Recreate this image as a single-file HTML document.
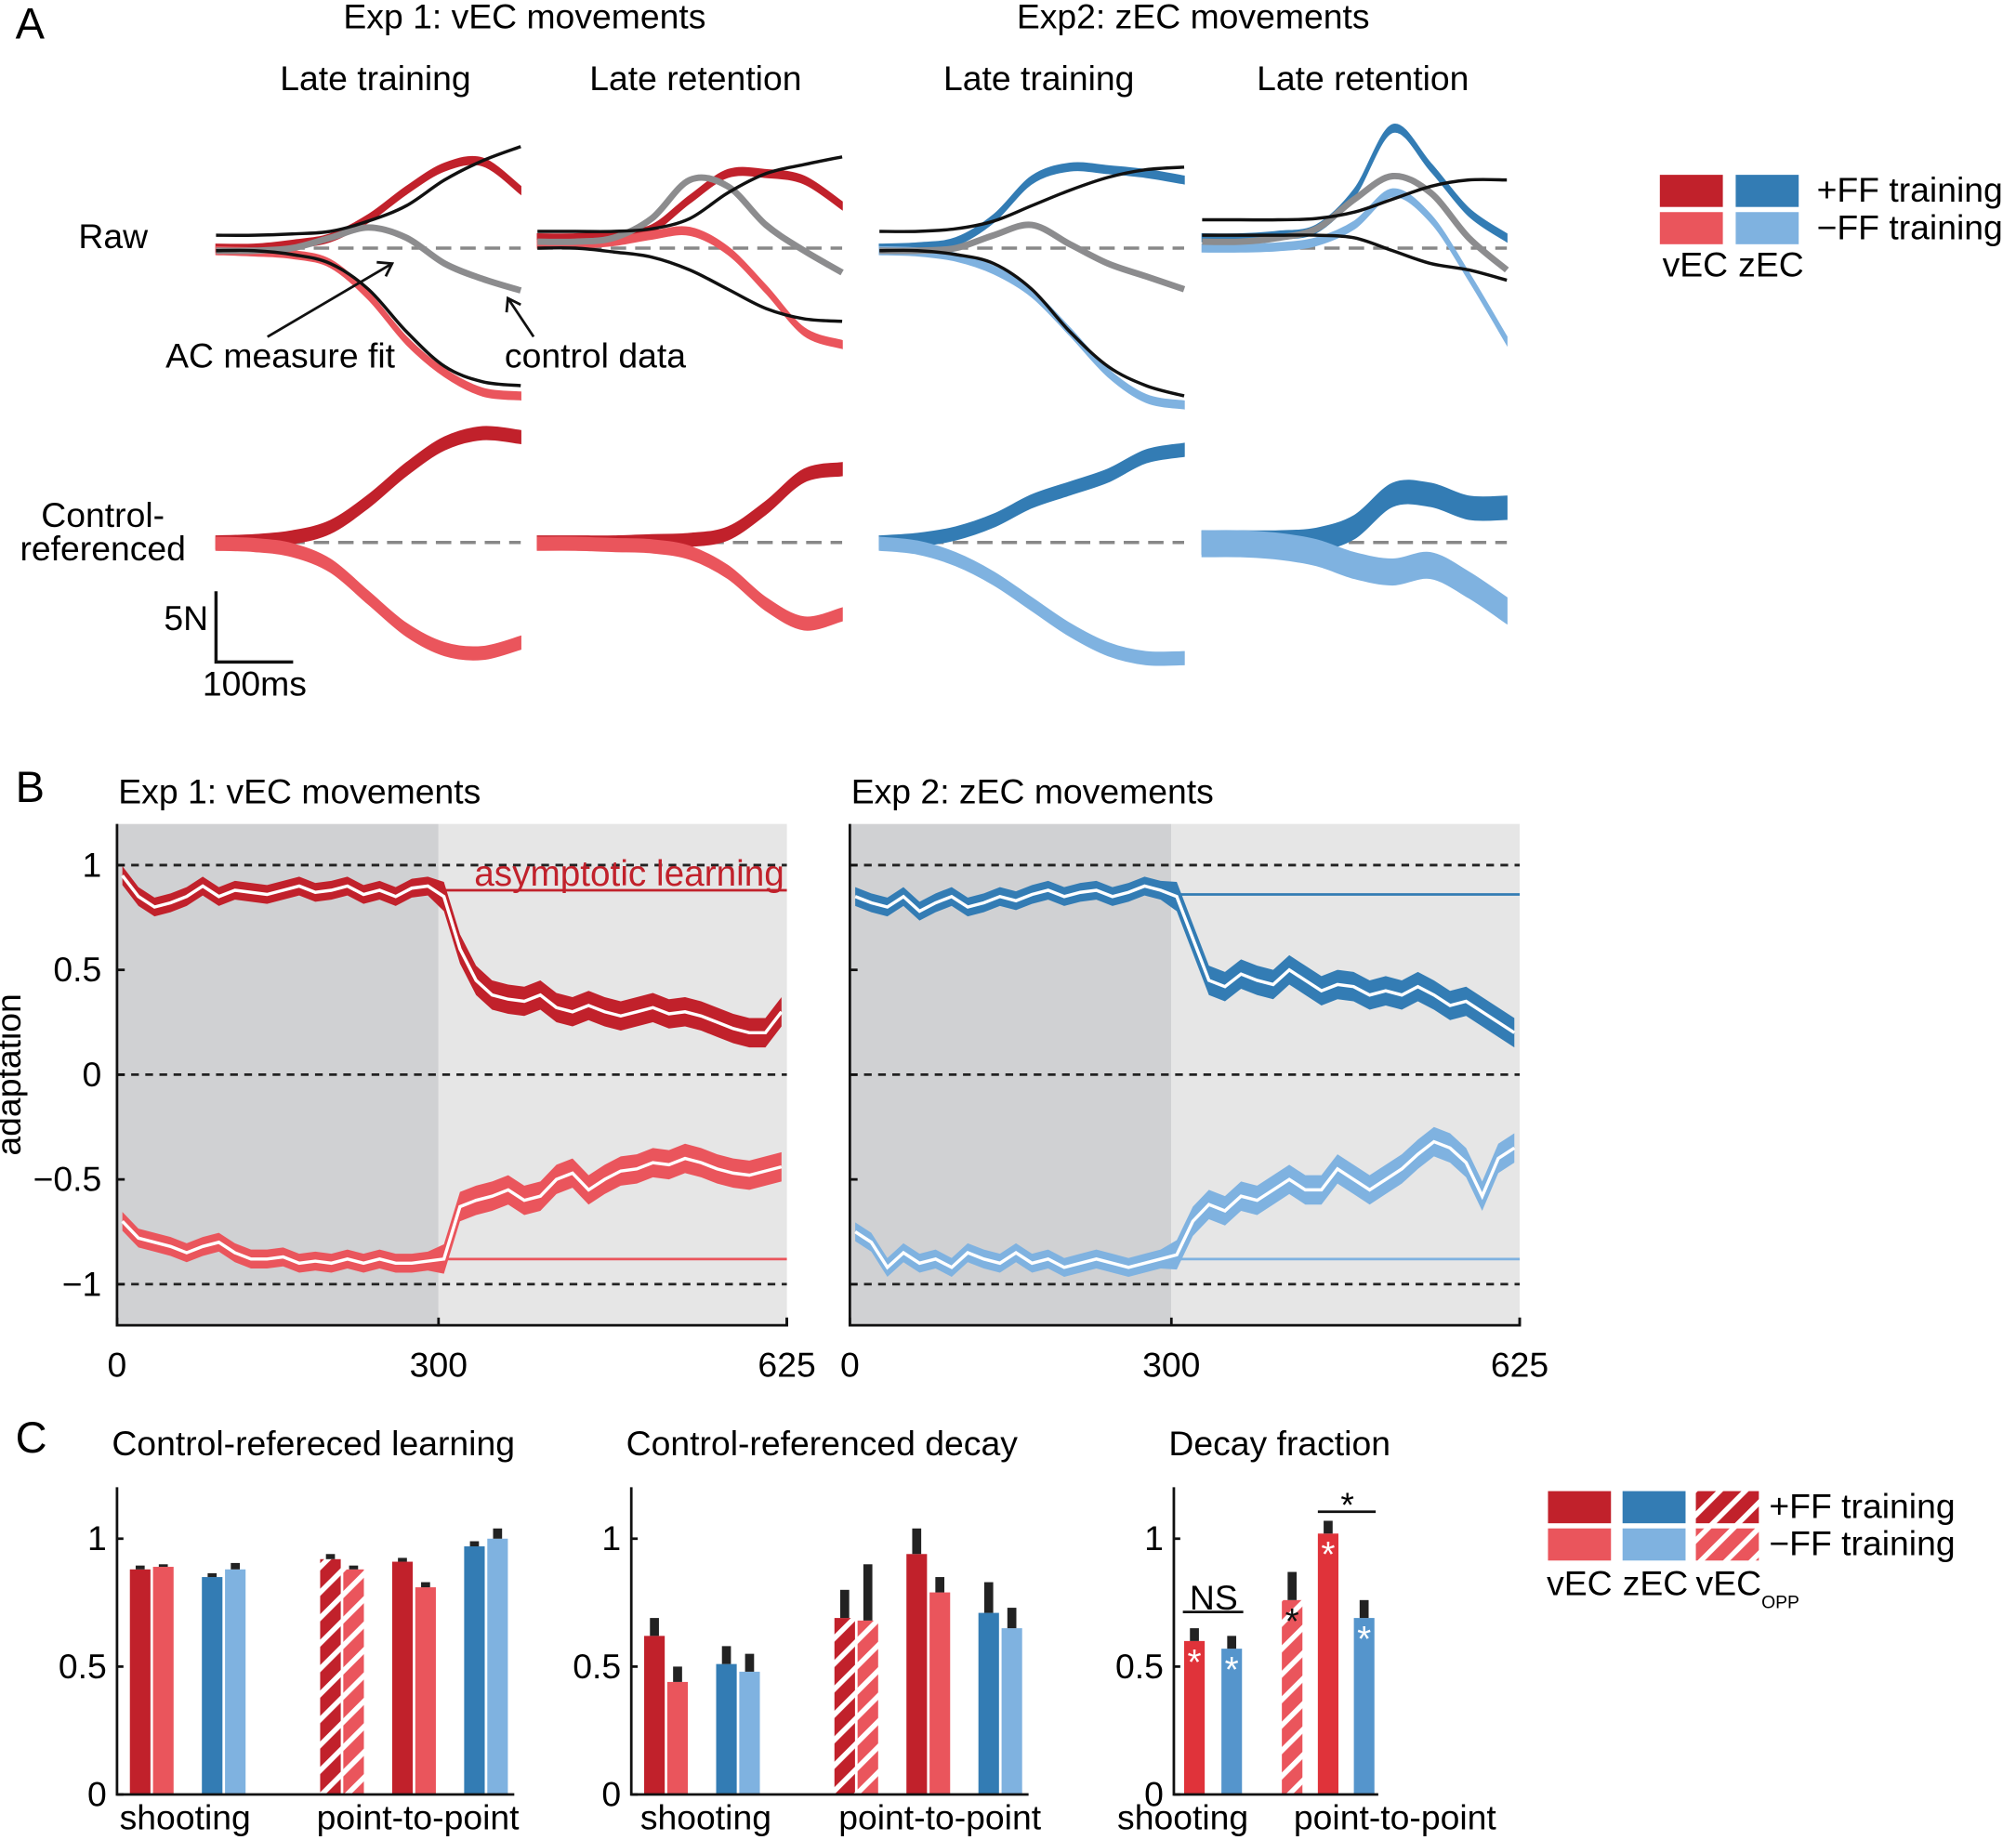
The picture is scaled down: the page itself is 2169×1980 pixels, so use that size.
<!DOCTYPE html>
<html><head><meta charset="utf-8">
<style>
html,body{margin:0;padding:0;background:#fff;}
svg{display:block;font-family:"Liberation Sans",sans-serif;}
</style></head>
<body>
<svg id="fig" width="2169" height="1980" viewBox="0 0 1568 1431.4" xmlns="http://www.w3.org/2000/svg">
<defs>
<pattern id="hatchD" patternUnits="userSpaceOnUse" width="14" height="14" patternTransform="rotate(45)">
<rect width="14" height="14" fill="#c1212b"/><rect width="4" height="14" fill="#fff"/></pattern>
<pattern id="hatchL" patternUnits="userSpaceOnUse" width="14" height="14" patternTransform="rotate(45)">
<rect width="14" height="14" fill="#ea555c"/><rect width="4" height="14" fill="#fff"/></pattern>
</defs>
<g id="A"></g>
<g id="B"></g>
<g id="C"></g>
</svg>
<script>
// ---------- Panel B data ----------
const bTrials = [5,20,35,50,65,80,95,110,125,140,155,170,185,200,215,230,245,260,275,290,305,320,335,350,365,380,395,410,425,440,455,470,485,500,515,530,545,560,575,590,605,620];
const vecPlus = [0.95,0.85,0.8,0.82,0.85,0.9,0.85,0.88,0.87,0.86,0.88,0.9,0.87,0.88,0.9,0.86,0.88,0.85,0.89,0.9,0.85,0.6,0.45,0.38,0.36,0.35,0.38,0.32,0.3,0.33,0.3,0.28,0.3,0.32,0.29,0.3,0.28,0.25,0.22,0.2,0.2,0.3];
const vecMinus = [-0.7,-0.78,-0.8,-0.82,-0.85,-0.82,-0.8,-0.85,-0.88,-0.88,-0.87,-0.9,-0.89,-0.9,-0.88,-0.9,-0.88,-0.9,-0.9,-0.89,-0.88,-0.63,-0.6,-0.58,-0.55,-0.6,-0.58,-0.5,-0.47,-0.55,-0.5,-0.46,-0.45,-0.42,-0.43,-0.4,-0.42,-0.45,-0.47,-0.48,-0.46,-0.44];
const zecPlus = [0.85,0.82,0.8,0.85,0.78,0.82,0.85,0.8,0.82,0.85,0.83,0.86,0.88,0.85,0.87,0.88,0.85,0.87,0.9,0.88,0.85,0.65,0.45,0.42,0.48,0.45,0.43,0.5,0.45,0.4,0.43,0.42,0.38,0.4,0.38,0.42,0.38,0.33,0.35,0.3,0.25,0.2];
const zecMinus = [-0.75,-0.8,-0.92,-0.85,-0.9,-0.88,-0.92,-0.85,-0.88,-0.9,-0.85,-0.9,-0.88,-0.92,-0.9,-0.88,-0.9,-0.92,-0.9,-0.88,-0.86,-0.7,-0.62,-0.65,-0.58,-0.6,-0.55,-0.5,-0.55,-0.55,-0.45,-0.5,-0.55,-0.5,-0.45,-0.38,-0.32,-0.35,-0.42,-0.58,-0.4,-0.35];
const asymptotes = [0.88,-0.88,0.86,-0.88];
const bYTicks = [1,0.5,0,-0.5,-1];
const bYTickLabels = ["1","0.5","0","\u22120.5","\u22121"];
const bXTicks = [0,300,625];

// ---------- Panel C data ----------
const cLearn = [0.88,0.89,0.85,0.88,0.92,0.88,0.91,0.81,0.97,1.0];
const cLearnErr = [0.015,0.01,0.015,0.025,0.02,0.015,0.015,0.02,0.02,0.04];
const cDecay = [0.62,0.44,0.51,0.48,0.69,0.68,0.94,0.79,0.71,0.65];
const cDecayErr = [0.07,0.06,0.07,0.07,0.11,0.22,0.1,0.06,0.12,0.08];
const cFrac = [0.60,0.57,0.76,1.02,0.69];
const cFracErr = [0.05,0.05,0.11,0.05,0.07];
const cYTicks = [0,0.5,1];

// ---------- Panel A traces ----------
const aRaw = [
 {dr:[193,193,190,185,170,148,130,126,148], lr:[195,196,198,205,230,265,290,305,308], g:[195,195,193,185,177,185,205,217,226], bu:[183,183,182,180,172,160,140,125,114], bl:[195,195,198,205,225,258,285,297,300], blue:false},
 {dr:[185,185,183,178,155,135,135,140,160], lr:[190,190,188,183,180,195,225,258,268], g:[188,188,185,170,140,145,175,195,212], bu:[180,180,180,178,170,150,135,128,122], bl:[193,193,196,200,210,225,240,248,250], blue:false},
 {dr:[193,192,188,170,140,130,132,135,140], lr:[195,196,200,210,228,258,290,310,315], g:[195,195,193,183,175,190,205,215,225], bu:[180,180,178,172,160,148,138,132,130], bl:[195,195,198,205,225,258,285,300,308], blue:true},
 {dr:[185,185,183,178,150,100,130,165,185], lr:[193,193,192,188,175,150,170,215,265], g:[188,188,185,178,155,137,150,185,210], bu:[171,171,171,170,165,155,145,140,140], bl:[183,183,183,183,185,195,205,210,218], blue:true}
];
const aRef = [
 {p:[422,421,418,410,390,365,345,337,340], m:[423,424,428,440,465,490,505,508,500]},
 {p:[422,422,422,421,420,415,395,370,365], m:[423,423,424,425,430,445,470,485,478]},
 {p:[422,420,415,405,390,380,370,355,350], m:[423,426,435,450,470,490,505,512,512]},
 {p:[422,422,422,420,410,385,385,395,395], m:[423,423,425,430,440,445,440,455,475]}
];

const NS="http://www.w3.org/2000/svg";
function mk(parent,tag,attrs,text){const e=document.createElementNS(NS,tag);for(const k in attrs)e.setAttribute(k,attrs[k]);if(text!==undefined)e.textContent=text;parent.appendChild(e);return e;}
const DR="#c1212b",LR="#ea555c",DB="#337cb4",LB="#7fb2e0";
const FS=27;

function smooth(pts){let d="M"+pts[0][0]+","+pts[0][1];for(let i=0;i<pts.length-1;i++){const p0=pts[Math.max(0,i-1)],p1=pts[i],p2=pts[i+1],p3=pts[Math.min(pts.length-1,i+2)];const c1=[p1[0]+(p2[0]-p0[0])/6,p1[1]+(p2[1]-p0[1])/6],c2=[p2[0]-(p3[0]-p1[0])/6,p2[1]-(p3[1]-p1[1])/6];d+=" C"+c1[0]+","+c1[1]+" "+c2[0]+","+c2[1]+" "+p2[0]+","+p2[1];}return d;}

// ---------- Panel A ----------
const A=document.getElementById('A');
let t;
t=mk(A,'text',{x:12,y:30,'font-size':34},'A');

const aTitles=[[408,22,'Exp 1: vEC movements'],[928,22,'Exp2: zEC movements'],[292,70,'Late training'],[541,70,'Late retention'],[808,70,'Late training'],[1060,70,'Late retention']];
aTitles.forEach(a=>{const e=mk(A,'text',{x:a[0],y:a[1],'font-size':FS,'text-anchor':'middle'},a[2]);});
t=mk(A,'text',{x:88,y:193,'font-size':FS,'text-anchor':'middle'},'Raw');
t=mk(A,'text',{x:80,y:410,'font-size':FS,'text-anchor':'middle'},'Control-');
t=mk(A,'text',{x:80,y:436,'font-size':FS,'text-anchor':'middle'},'referenced');
const aX=[168,418,684,935], aW=237;
function xsOf(i,n){const a=[];for(let k=0;k<n;k++)a.push(aX[i]+aW*k/(n-1));return a;}
function band(g,xs,ys,w,col,name){const top=xs.map((x,k)=>[x,ys[k]-w/2]),bot=xs.map((x,k)=>[x,ys[k]+w/2]).reverse();const d=smooth(top)+" L"+bot[0][0]+","+bot[0][1]+" "+smooth(bot).slice(1).replace(/^[^C]*/,'')+" Z";const e=mk(g,'path',{d:d,fill:col,stroke:col,'stroke-width':1});}
function line(g,xs,ys,col,w,name){const e=mk(g,'path',{d:smooth(xs.map((x,k)=>[x,ys[k]])),fill:'none',stroke:col,'stroke-width':w});}
for(let i=0;i<4;i++){
  const xs=xsOf(i,9),r=aRaw[i],f=aRef[i];
  let d=mk(A,'line',{x1:aX[i],x2:aX[i]+aW,y1:193,y2:193,stroke:'#888','stroke-width':2.5,'stroke-dasharray':'12,7'});
  
  d=mk(A,'line',{x1:aX[i],x2:aX[i]+aW,y1:422,y2:422,stroke:'#888','stroke-width':2.5,'stroke-dasharray':'12,7'});
  
  band(A,xs,r.dr,6,r.blue?DB:DR,'raw-plus-ff-trace');
  band(A,xs,r.lr,6,r.blue?LB:LR,'raw-minus-ff-trace');
  line(A,xs,r.g,'#8c8c8e',5,'control-data-trace');
  line(A,xs,r.bu,'#111',2.5,'ac-fit-upper');
  line(A,xs,r.bl,'#111',2.5,'ac-fit-lower');
  band(A,xs,f.p,i==3?18:10,r.blue?DB:DR,'ref-plus-ff-trace');
  band(A,xs,f.m,i==3?20:10,r.blue?LB:LR,'ref-minus-ff-trace');
}
t=mk(A,'text',{x:218,y:286,'font-size':FS,'text-anchor':'middle'},'AC measure fit');
t=mk(A,'text',{x:463,y:286,'font-size':FS,'text-anchor':'middle'},'control data');
t=mk(A,'path',{d:'M208,262 L305,205 M293,204 L305,205 L300,215 M415,262 L395,232 M394,243 L395,232 L405,237',stroke:'#111','stroke-width':2,fill:'none'});
t=mk(A,'path',{d:'M168,460 L168,515 L228,515',stroke:'#111','stroke-width':2.5,fill:'none'});
t=mk(A,'text',{x:162,y:490,'font-size':FS,'text-anchor':'end'},'5N');
t=mk(A,'text',{x:198,y:541,'font-size':FS,'text-anchor':'middle'},'100ms');
[[1291,136,DR],[1350,136,DB],[1291,165,LR],[1350,165,LB]].forEach(s=>{const e=mk(A,'rect',{x:s[0],y:s[1],width:49,height:25,fill:s[2]});});
[[1413,157,'+FF training'],[1413,186,'\u2212FF training'],[1293,215,'vEC'],[1352,215,'zEC']].forEach(s=>{const e=mk(A,'text',{x:s[0],y:s[1],'font-size':FS},s[2]);});

// ---------- Panel B ----------
const B=document.getElementById('B');
t=mk(B,'text',{x:12,y:624,'font-size':34},'B');
t=mk(B,'text',{x:16,y:836,'font-size':FS,'text-anchor':'middle',transform:'rotate(-90 16 836)'},'adaptation');
const yB=v=>836-163*v;
function drawB(x0,title,sP,sM,cP,cM,asP,asM,showY){
  const xB=v=>x0+521*v/625;
  const g=mk(B,'g',{});
  let e=mk(g,'text',{x:x0+1,y:625,'font-size':FS},title);
  e=mk(g,'rect',{x:xB(0),y:641,width:xB(300)-xB(0),height:390,fill:'#d0d1d3'});
  e=mk(g,'rect',{x:xB(300),y:641,width:xB(625)-xB(300),height:390,fill:'#e6e6e6'});
  [1,0,-1].forEach(v=>{const l=mk(g,'line',{x1:xB(0),x2:xB(625),y1:yB(v),y2:yB(v),stroke:'#222','stroke-width':2,'stroke-dasharray':'6,5'});});
  [[sP,cP,asP],[sM,cM,asM]].forEach(([s,c,a])=>{
    const hw=bTrials.map(x=>x<300?0.045:0.07);
    const top=bTrials.map((x,k)=>xB(x)+','+yB(s[k]+hw[k])).join(' ');
    const bot=bTrials.map((x,k)=>xB(x)+','+yB(s[k]-hw[k])).reverse().join(' ');
    let p=mk(g,'polygon',{points:top+' '+bot,fill:c});
    p=mk(g,'line',{x1:xB(300),x2:xB(625),y1:yB(a),y2:yB(a),stroke:c,'stroke-width':2});
    p=mk(g,'polyline',{points:bTrials.map((x,k)=>xB(x)+','+yB(s[k])).join(' '),fill:'none',stroke:'#fff','stroke-width':2.5});
  });
  e=mk(g,'path',{d:`M${xB(0)},641 L${xB(0)},1031 L${xB(625)},1031 L${xB(625)},1025`,fill:'none',stroke:'#111','stroke-width':2});
  bYTicks.forEach((v,k)=>{let l=mk(g,'line',{x1:xB(0),x2:xB(0)+6,y1:yB(v),y2:yB(v),stroke:'#111','stroke-width':2});
    if(showY){l=mk(g,'text',{x:xB(0)-12,y:yB(v)+9,'font-size':FS,'text-anchor':'end'},bYTickLabels[k]);}});
  bXTicks.forEach(v=>{let l=mk(g,'line',{x1:xB(v),x2:xB(v),y1:1031,y2:1025,stroke:'#111','stroke-width':2});
    l=mk(g,'text',{x:xB(v),y:1071,'font-size':FS,'text-anchor':'middle'},String(v));});
  return xB;
}
drawB(91,'Exp 1: vEC movements',vecPlus,vecMinus,DR,LR,asymptotes[0],asymptotes[1],true);
drawB(661,'Exp 2: zEC movements',zecPlus,zecMinus,DB,LB,asymptotes[2],asymptotes[3],false);
t=mk(B,'text',{x:610,y:689,'font-size':FS+1,fill:DR,'text-anchor':'end'},'asymptotic learning');

// ---------- Panel C ----------
const C=document.getElementById('C');
t=mk(C,'text',{x:12,y:1130,'font-size':34},'C');
const yC=v=>1396-199*v;
const cols10=[DR,LR,DB,LB,'url(#hatchD)','url(#hatchL)',DR,LR,DB,LB];
const off10=[10,28,66,84,158,176,214,232,270,288];
function drawC(x0,title,vals,errs,cols,offs,w){
  const g=mk(C,'g',{});
  let e=mk(g,'text',{x:x0-4,y:1132,'font-size':FS},title);
  vals.forEach((v,k)=>{
    let r=mk(g,'rect',{x:x0+offs[k],y:yC(v),width:w,height:yC(0)-yC(v),fill:cols[k]});
    r=mk(g,'rect',{x:x0+offs[k]+w/2-3.5,y:yC(v+errs[k]),width:7,height:yC(v)-yC(v+errs[k]),fill:'#222'});
  });
  return g;
}
function axesC(g,x0,x1){
  let e=mk(g,'path',{d:`M${x0},1157 L${x0},1396 L${x1},1396`,fill:'none',stroke:'#111','stroke-width':2});
  cYTicks.forEach(v=>{let l=mk(g,'line',{x1:x0,x2:x0+5,y1:yC(v),y2:yC(v),stroke:'#111','stroke-width':2});
    l=mk(g,'text',{x:x0-8,y:yC(v)+9,'font-size':FS,'text-anchor':'end'},String(v));});
}
let g1=drawC(91,'Control-refereced learning',cLearn,cLearnErr,cols10,off10,16);axesC(g1,91,400);
let g2=drawC(491,'Control-referenced decay',cDecay,cDecayErr,cols10,off10,16);axesC(g2,491,800);
[[144,'shooting'],[325,'point-to-point'],[549,'shooting'],[731,'point-to-point']].forEach(s=>{const e=mk(C,'text',{x:s[0],y:1423,'font-size':FS,'text-anchor':'middle'},s[1]);});
const RF="#e0333a",BF="#5595cc";
let g3=drawC(913,'Decay fraction',cFrac,cFracErr,[RF,BF,'url(#hatchL)',RF,BF],[8,37,84,112,140],16);axesC(g3,913,1072);
[[920,'shooting'],[1085,'point-to-point']].forEach(s=>{const e=mk(C,'text',{x:s[0],y:1423,'font-size':FS,'text-anchor':'middle'},s[1]);});
[[929,cFrac[0],'#fff'],[958,cFrac[1],'#fff'],[1005,cFrac[2],'#111'],[1033,cFrac[3],'#fff'],[1061,cFrac[4],'#fff']].forEach(s=>{const e=mk(C,'text',{x:s[0],y:yC(s[1])+26,'font-size':28,'text-anchor':'middle',fill:s[2]},'*');});
t=mk(C,'line',{x1:920,x2:967,y1:1254,y2:1254,stroke:'#111','stroke-width':2});
t=mk(C,'text',{x:944,y:1252,'font-size':FS,'text-anchor':'middle'},'NS');
t=mk(C,'line',{x1:1025,x2:1070,y1:1176,y2:1176,stroke:'#111','stroke-width':2});
t=mk(C,'text',{x:1048,y:1180,'font-size':FS,'text-anchor':'middle'},'*');
[[1204,1160,DR],[1262,1160,DB],[1319,1160,'url(#hatchD)'],[1204,1189,LR],[1262,1189,LB],[1319,1189,'url(#hatchL)']].forEach(s=>{const e=mk(C,'rect',{x:s[0],y:s[1],width:49,height:25,fill:s[2]});});
[[1376,1181,'+FF training'],[1376,1210,'\u2212FF training'],[1203,1241,'vEC'],[1262,1241,'zEC'],[1319,1241,'vEC']].forEach(s=>{const e=mk(C,'text',{x:s[0],y:s[1],'font-size':FS},s[2]);});
t=mk(C,'text',{x:1370,y:1251,'font-size':14},'OPP');
</script>
</body></html>
